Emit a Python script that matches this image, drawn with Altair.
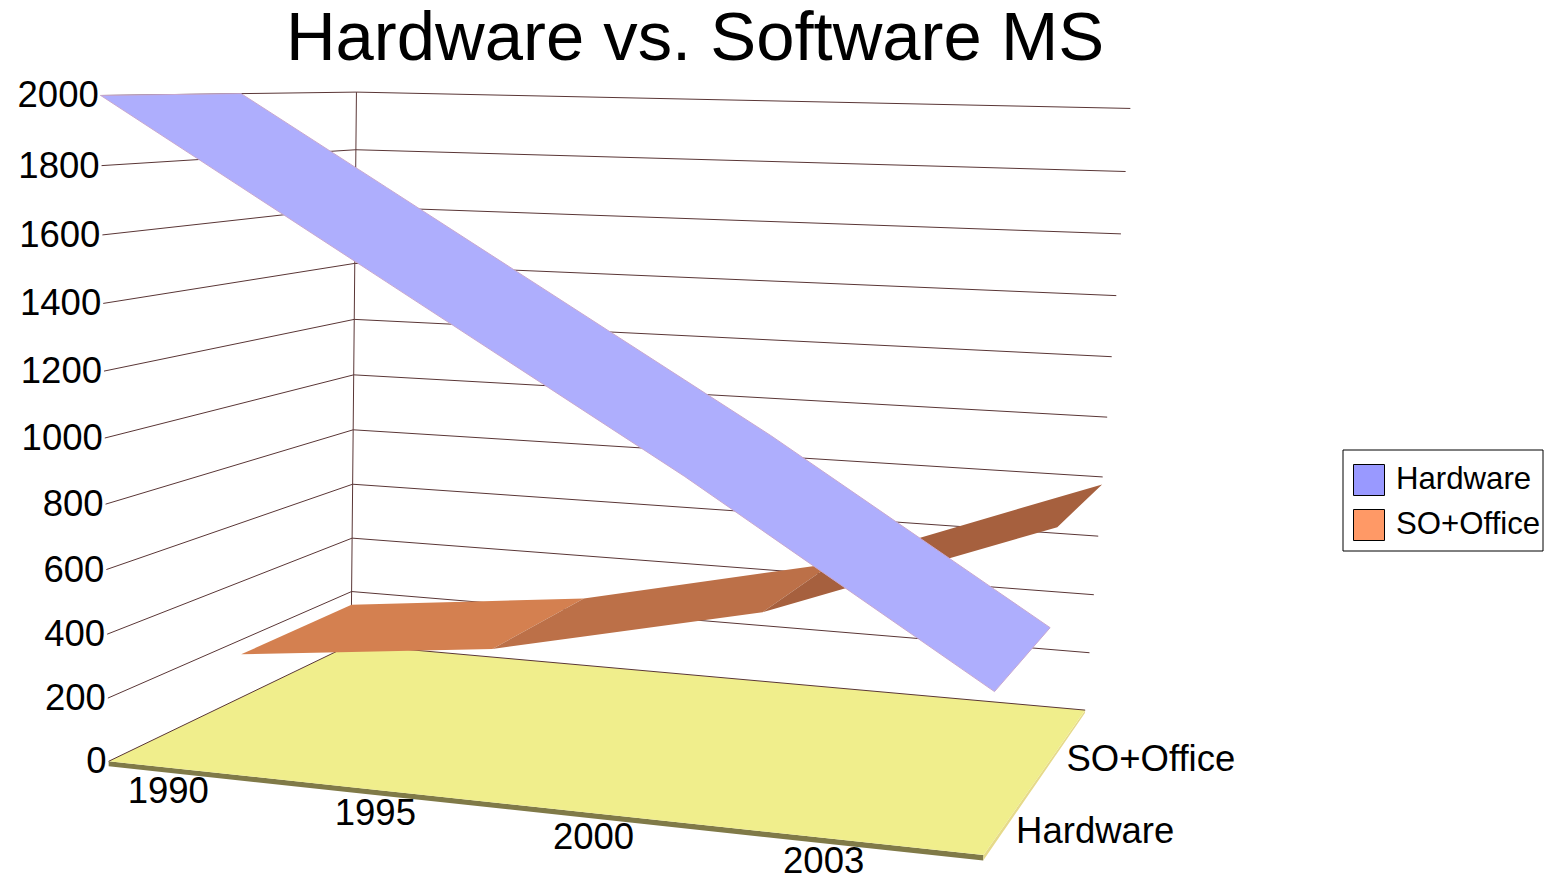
import altair as alt
import numpy as np
import pandas as pd

years = ["1990", "1995", "2000", "2003"]
series = ["Hardware", "SO+Office"]
hardware = [2000, 1500, 1000, 465]
office = [150, 245, 440, 775]
ticks = [0, 200, 400, 600, 800, 1000, 1200, 1400, 1600, 1800, 2000]

FONT = "Liberation Sans"
X0, X1, Y0, Y1 = 8, 1544, 876, 78

# perspective camera of the 3D box, fitted to its corners
box = [((0, 0, 0), (107, 760)), ((1, 0, 0), (983, 857)), ((1, 1, 0), (1085, 708)),
       ((0, 1, 0), (353, 646)), ((0, 0, 2000), (103, 95)), ((0, 1, 2000), (354, 92)),
       ((1, 1, 2000), (1131, 109))]
A, B = [], []
for (u, d, v), (px, py) in box:
    w = v / 2000
    A.append([u, d, w, 1, 0, 0, 0, 0, -px * u, -px * d, -px * w]); B.append(px)
    A.append([0, 0, 0, 0, u, d, w, 1, -py * u, -py * d, -py * w]); B.append(py)
P = np.linalg.lstsq(np.array(A, float), np.array(B, float), rcond=None)[0]


def project(u, d, v):
    w = v / 2000
    h = P[8] * u + P[9] * d + P[10] * w + 1
    return ((P[0] * u + P[1] * d + P[2] * w + P[3]) / h,
            (P[4] * u + P[5] * d + P[6] * w + P[7]) / h)


def region(poly):
    """Turn an x-monotone polygon into x / y / y2 rows for an area mark."""
    pts = [project(*p) for p in poly]
    rows = []
    for x in sorted({p[0] for p in pts}):
        ys = []
        for a, b in zip(pts, pts[1:] + pts[:1]):
            lo, hi = min(a[0], b[0]), max(a[0], b[0])
            if lo <= x <= hi:
                if a[0] == b[0]:
                    ys += [a[1], b[1]]
                else:
                    ys.append(a[1] + (b[1] - a[1]) * (x - a[0]) / (b[0] - a[0]))
        rows.append({"x": x, "y": min(ys), "y2": max(ys)})
    return pd.DataFrame(rows)


xs = alt.Scale(domain=[X0, X1], range=[0, X1 - X0])
ys = alt.Scale(domain=[Y0, Y1], range=[Y0 - Y1, 0])
ax = lambda f: alt.X(f, type="quantitative", scale=xs, axis=None)
ay = lambda f: alt.Y(f, type="quantitative", scale=ys, axis=None)


def area(poly, color, **kw):
    return alt.Chart(region(poly)).mark_area(color=color, **kw).encode(
        x=ax("x"), y=ay("y"), y2=alt.Y2("y2"))


n = len(years) - 1
us = [i / n for i in range(n + 1)]

# walls
grid = []
for t in ticks:
    for k, (u, d) in enumerate([(0, 0), (0, 1), (1, 1)]):
        x, y = project(u, d, t)
        grid.append({"id": f"g{t}", "k": k, "x": x, "y": y})
for k, t in enumerate([0, 2000]):
    x, y = project(0, 1, t)
    grid.append({"id": "corner", "k": k, "x": x, "y": y})
grid_layer = alt.Chart(pd.DataFrame(grid)).mark_line(color="#5a3636", strokeWidth=1).encode(
    x=ax("x"), y=ay("y"), detail="id:N", order="k:Q")

# floor
floor = area([(0, 0, 0), (1, 0, 0), (1, 1, 0), (0, 1, 0)], "#f0ee8c")
front = area([(0, 0, 0), (1, 0, 0), (1, 0, -16), (0, 0, -16)], "#807a48")
side = area([(1, 0, 0), (1, 1, 0), (1, 1, -10), (1, 0, -16)], "#e6da8a")

# ribbons
off_layers = []
for i, shade in enumerate(["#d48050", "#bc7048", "#a6603e"]):
    off_layers.append(area([(us[i], .5, office[i]), (us[i + 1], .5, office[i + 1]),
                            (us[i + 1], 1, office[i + 1]), (us[i], 1, office[i])], shade))
near = [(us[i], 0, hardware[i]) for i in range(n + 1)]
far = [(us[i], .5, hardware[i]) for i in range(n + 1)]
hw_layer = area(near + far[::-1], "#aeaefd", stroke="#c8a8d0", strokeWidth=1)

# text
ylab = pd.DataFrame([dict(zip("xy", project(0, 0, t)), t=str(t)) for t in ticks])
ylab_layer = alt.Chart(ylab).mark_text(font=FONT, fontSize=36.5, align="right", baseline="middle",
                                       dx=-2, dy=1, color="black").encode(x=ax("x"), y=ay("y"), text="t:N")
xlab = pd.DataFrame([dict(zip("xy", project((i + .5) / len(years), 0, 0)), t=years[i])
                     for i in range(len(years))])
xlab_layer = alt.Chart(xlab).mark_text(font=FONT, fontSize=36.5, align="center", baseline="middle",
                                       dx=-40, dy=20, color="black").encode(x=ax("x"), y=ay("y"), text="t:N")
dlab = pd.DataFrame([dict(zip("xy", project(1, .25 + .5 * i, 0)), t=series[i]) for i in range(2)])
dlab_layer = alt.Chart(dlab).mark_text(font=FONT, fontSize=36.5, align="left", baseline="middle",
                                       dx=3, dy=19, color="black").encode(x=ax("x"), y=ay("y"), text="t:N")

# legend
legend_frame = alt.Chart(pd.DataFrame({"s": ["frame"]})).mark_rect(
    fillOpacity=0, stroke="black", strokeWidth=1).encode(
    x=alt.value(1335), x2=alt.value(1535), y=alt.value(372), y2=alt.value(473))
legend_layer = alt.Chart(pd.DataFrame({"s": series})).mark_square(size=0).encode(
    x=alt.value(0), y=alt.value(0),
    color=alt.Color("s:N", scale=alt.Scale(domain=series, range=["#9999ff", "#ff9966"]),
                    legend=alt.Legend(orient="none", legendX=1345, legendY=386, title=None,
                                      padding=0,
                                      symbolType="square", symbolSize=961, symbolStrokeColor="black",
                                      symbolStrokeWidth=1, symbolOpacity=1, symbolFillColor=None,
                                      labelFont=FONT, labelFontSize=31.2, labelColor="black",
                                      labelOffset=11, rowPadding=9, labelLimit=300)))

chart = alt.layer(front, side, floor, grid_layer, *off_layers, hw_layer,
                  ylab_layer, xlab_layer, dlab_layer, legend_frame, legend_layer).properties(
    width=X1 - X0, height=Y0 - Y1, background="white",
    padding={"left": 0, "top": Y1 - 8, "right": 0, "bottom": 0},
    autosize=alt.AutoSizeParams(type="none"),
    title=alt.TitleParams("Hardware vs. Software MS", font=FONT, fontSize=68.8, fontWeight="normal",
                          color="black", anchor="middle", dx=-81, offset=3),
).configure_view(stroke=None)

chart.save("out.html", embed_options={"renderer": "svg", "actions": False})
